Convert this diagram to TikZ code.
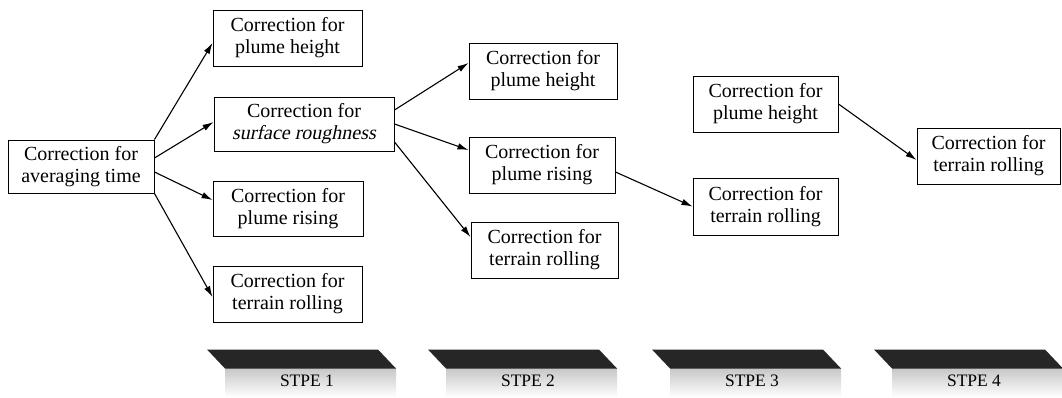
\documentclass[tikz,border=0pt]{standalone}
\usepackage{fontspec}
\setmainfont{Liberation Serif}
\usetikzlibrary{arrows.meta,calc}
\begin{document}
\begin{tikzpicture}[x=1pt,y=-1pt,
  box/.style={draw,line width=1pt,align=center,inner sep=0pt,
    font=\fontsize{20}{22}\selectfont},
  slanttext/.style={inner sep=0pt,font=\fontsize{20}{22}\selectfont,xslant=0.21,transform shape},
  arr/.style={line width=1.1pt,-{Latex[length=11pt,width=6.5pt]}},
  band/.style={fill=black!85},
  lbl/.style={font=\fontsize{17.5}{20}\selectfont,inner sep=0pt}]
\useasboundingbox (0,0) rectangle (1062,397);
% column 0
\node[box,minimum width=146,minimum height=53] (A) at (81,166.5) {Correction for\\averaging time};
% column 1
\node[box,minimum width=149,minimum height=56] (B1) at (287.5,38) {Correction for\\plume height};
\node[box,minimum width=180,minimum height=54] (B2) at (304,124) {Correction for\\\phantom{surface roughness}};
\node[slanttext,anchor=base] (B2i) at ($(B2.center)+(0,15.5)$) {surface roughness};
\node[box,minimum width=150,minimum height=55] (B3) at (288,208.5) {Correction for\\plume rising};
\node[box,minimum width=149,minimum height=56] (B4) at (287.5,294) {Correction for\\terrain rolling};
% column 2
\node[box,minimum width=148,minimum height=56] (C1) at (543,71) {Correction for\\plume height};
\node[box,minimum width=146,minimum height=56] (C2) at (542,165) {Correction for\\plume rising};
\node[box,minimum width=147,minimum height=56] (C3) at (544.5,250) {Correction for\\terrain rolling};
% column 3
\node[box,minimum width=145,minimum height=56] (D1) at (765.5,104) {Correction for\\plume height};
\node[box,minimum width=145,minimum height=57] (D2) at (765.5,206.5) {Correction for\\terrain rolling};
% column 4
\node[box,minimum width=143,minimum height=56] (E1) at (988.5,156) {Correction for\\terrain rolling};
% arrows
\draw[arr] (A.north east) -- ($(B1.west)+(0,5)$);
\draw[arr] ($(A.east)+(0,-8.5)$) -- ($(B2.west)+(0,-2)$);
\draw[arr] ($(A.east)+(0,5.5)$) -- ($(B3.west)+(0,-8.5)$);
\draw[arr] (A.south east) -- ($(B4.west)+(0,3)$);
\draw[arr] ($(B2.east)+(0,-14)$) -- ($(C1.west)+(0,-8)$);
\draw[arr] (B2.east) -- ($(C2.west)+(0,-15)$);
\draw[arr] ($(B2.east)+(0,18)$) -- ($(C3.west)+(0,-13)$);
\draw[arr] ($(C2.east)+(0,7)$) -- (D2.west);
\draw[arr] (D1.east) -- ($(E1.west)+(0,4)$);
% step bands
\foreach \tl/\n in {207/1,428/2,652/3,874/4}{
  \shade[top color=black!22,bottom color=white] (\tl+18,368.5) rectangle (\tl+189,397);
  \fill[band] (\tl,349.5) -- (\tl+171,349.5) -- (\tl+189,368.5) -- (\tl+18,368.5) -- cycle;
  \node[lbl] (S\n) at (\tl+100,381) {STPE \n};
}
\end{tikzpicture}
\end{document}
